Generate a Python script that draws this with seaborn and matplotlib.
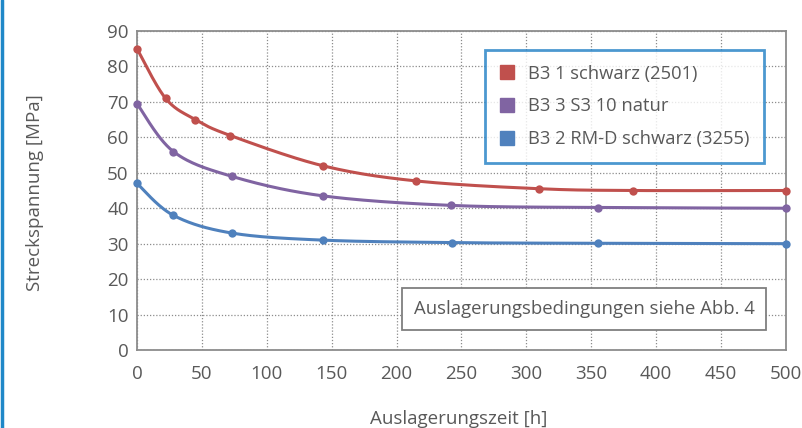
import numpy as np
import pandas as pd
import matplotlib
matplotlib.use("Agg")
import matplotlib.pyplot as plt
import seaborn as sns
from matplotlib.lines import Line2D

# ---- data ----
series_names = ["B3 1 schwarz (2501)", "B3 3 S3 10 natur", "B3 2 RM-D schwarz (3255)"]
red_x = [0, 22, 45, 72, 143, 215, 310, 382, 500]
red_y = [85, 71, 65, 60.5, 52, 47.7, 45.5, 45, 45]
purple_x = [0, 28, 73, 143, 242, 355, 500]
purple_y = [69.5, 56, 49, 43.5, 40.8, 40.2, 40]
blue_x = [0, 28, 73, 143, 243, 355, 500]
blue_y = [47, 38, 33, 31, 30.3, 30.1, 30]
colors = ["#C0504D", "#8064A2", "#4F81BD"]
x_ticks = list(range(0, 501, 50))
y_ticks = list(range(0, 91, 10))


def smooth(xs, ys, n=30):
    """Excel-like smoothed line: cubic Bezier with Catmull-Rom tangents."""
    xs = np.asarray(xs, float); ys = np.asarray(ys, float)
    P = np.column_stack([xs, ys])
    out = []
    for i in range(len(P) - 1):
        p0 = P[i - 1] if i > 0 else P[i]
        p1 = P[i]; p2 = P[i + 1]
        p3 = P[i + 2] if i + 2 < len(P) else P[i + 1]
        c1 = p1 + (p2 - p0) / 6.0
        c2 = p2 - (p3 - p1) / 6.0
        t = np.linspace(0, 1, n)[:, None]
        seg = ((1 - t) ** 3) * p1 + 3 * ((1 - t) ** 2) * t * c1 + 3 * (1 - t) * t ** 2 * c2 + t ** 3 * p2
        out.append(seg if i == 0 else seg[1:])
    S = np.vstack(out)
    return S[:, 0], S[:, 1]


sns.set_theme(style="white")
plt.rcParams["font.family"] = ["Open Sans", "DejaVu Sans"]
txt = "#595959"

fig = plt.figure(figsize=(8.02, 4.28), dpi=100)
ax = fig.add_axes([137 / 802, 1 - 350 / 428, (786 - 137) / 802, (350 - 31) / 428])

data = [(red_x, red_y), (purple_x, purple_y), (blue_x, blue_y)]
handles = []
for (xs, ys), c, name in zip(data, colors, series_names):
    sx, sy = smooth(xs, ys)
    df_s = pd.DataFrame({"x": sx, "y": sy})
    sns.lineplot(data=df_s, x="x", y="y", ax=ax, color=c, lw=2.2, sort=False,
                 estimator=None, zorder=3)
    df_p = pd.DataFrame({"x": xs, "y": ys})
    sns.scatterplot(data=df_p, x="x", y="y", ax=ax, color=c, s=36, edgecolor=c,
                    linewidth=0, zorder=4, clip_on=False)
    handles.append(Line2D([], [], marker="s", color=c, ls="none", markersize=10))

ax.set_xlim(0, 500)
ax.set_ylim(0, 90)
ax.set_xticks(x_ticks)
ax.set_yticks(y_ticks)
ax.grid(True, ls=(0, (1, 1.5)), color="#8c8c8c", lw=0.9)
for s in ax.spines.values():
    s.set_color("#8c8c8c")
    s.set_linewidth(1.3)
ax.tick_params(axis="both", length=0, labelsize=13.5, colors=txt, pad=6)
ax.tick_params(axis="x", pad=11)
ax.set_xlabel("")
ax.set_ylabel("")

fig.text(459 / 802, 1 - 419 / 428, "Auslagerungszeit [h]", ha="center", va="center",
         fontsize=13.5, color=txt)
fig.text(35 / 802, 1 - 193 / 428, "Streckspannung [MPa]", ha="center", va="center",
         rotation=90, fontsize=13.5, color=txt)

leg = ax.legend(handles, series_names, loc="upper left",
                bbox_to_anchor=((485 - 137) / 649, (350 - 50) / 319),
                frameon=True, fancybox=False, fontsize=13.2, labelcolor=txt,
                handlelength=0.8, handletextpad=0.75, labelspacing=0.8,
                borderpad=0.8, borderaxespad=0)
leg.get_frame().set_edgecolor("#1F7FC4")
leg.get_frame().set_linewidth(2)
leg.get_frame().set_facecolor("white")
leg.set_zorder(6)

ax.text((584 - 137) / 649, (350 - 309) / 319, "Auslagerungsbedingungen siehe Abb. 4",
        transform=ax.transAxes, ha="center", va="center", fontsize=13.3, color=txt,
        zorder=6,
        bbox=dict(boxstyle="square,pad=0.65", facecolor="white", edgecolor="#7f7f7f", lw=1.3))

fig.add_artist(Line2D([2 / 802, 2 / 802], [0, 1], color="#1F88C8", lw=2.5,
                      transform=fig.transFigure))

fig.savefig("out.png", dpi=100)
